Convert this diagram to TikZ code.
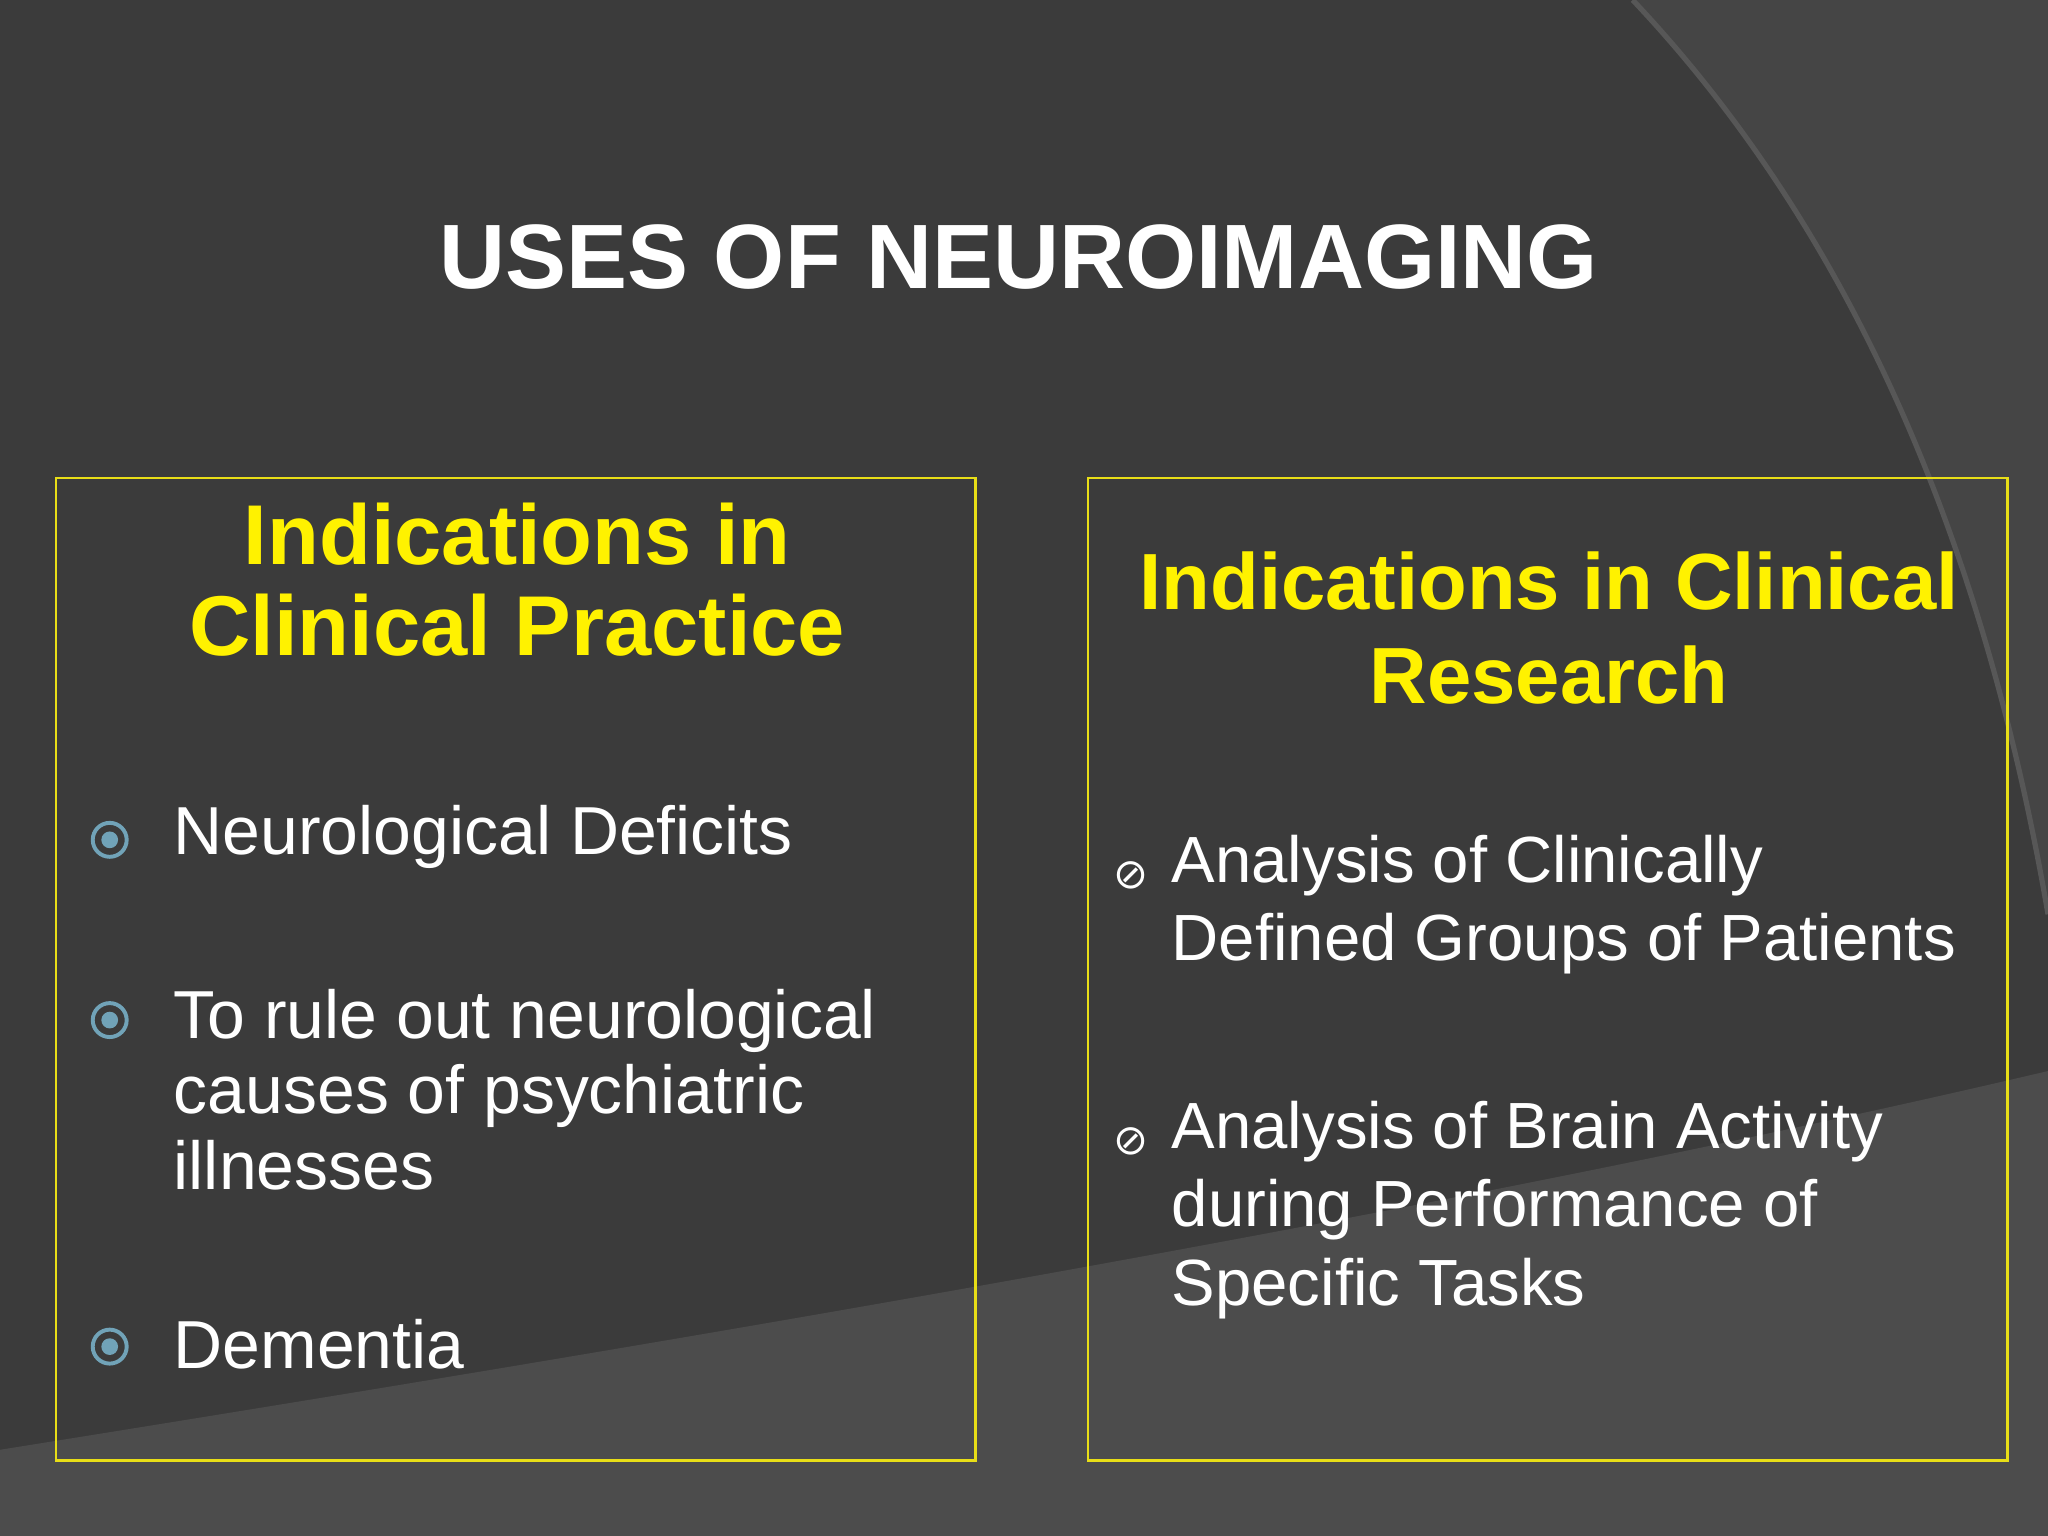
\documentclass[tikz,border=0pt]{standalone}
\usepackage{fontspec}
\setmainfont{Liberation Sans}
\newfontfamily\dejavu{DejaVu Sans}
\begin{document}
\begin{tikzpicture}[x=0.5pt,y=-0.5pt,
  box/.style={draw=yellow!90!black,line width=1pt},
  head/.style={text=yellow,font=\fontsize{31}{35}\selectfont\bfseries,align=center},
  item/.style={text=white,font=\fontsize{26}{29}\selectfont,align=left,anchor=west},
  itemr/.style={text=white,font=\fontsize{25}{30}\selectfont,align=left,anchor=north west},
  bul/.style={circle,draw=cyan!40!gray,line width=1.5pt,minimum size=13pt,inner sep=0pt,
     path picture={\fill[cyan!40!gray] (path picture bounding box.center) circle (3.2pt);}},
  bulr/.style={text=white,font=\dejavu\fontsize{16}{16}\selectfont,inner sep=0pt}]
\useasboundingbox (0,0) rectangle (1568,1176);
\fill[black!77] (0,0) rectangle (1568,1176);
\fill[black!73] (1250,0) .. controls (1420,180) and (1520,420) .. (1568,700) -- (1568,0) -- cycle;
\fill[black!70] (0,1110) .. controls (500,1030) and (1100,930) .. (1568,820) -- (1568,1176) -- (0,1176) -- cycle;
\draw[black!66,line width=2pt] (1250,0) .. controls (1420,180) and (1520,420) .. (1568,700);
\node[text=white,font=\fontsize{35}{40}\selectfont\bfseries] (title) at (780,197) {USES OF NEUROIMAGING};
\draw[box] (43,366) rectangle (747,1118);
\draw[box] (833,366) rectangle (1537,1118);
\node[head,font=\fontsize{32.5}{35}\selectfont\bfseries] (hl) at (396,444) {Indications in\\Clinical Practice};
\node[head,font=\fontsize{30.5}{36}\selectfont\bfseries] (hr) at (1186,481) {Indications in Clinical\\Research};
\node[bul] (b1) at (84,643) {};
\node[item] (t1) at (126,641) {Neurological Deficits};
\node[bul] (b2) at (84,781) {};
\node[item,anchor=north west] (t2) at (126,750) {To rule out neurological\\causes of psychiatric\\illnesses};
\node[bul] (b3) at (84,1031) {};
\node[item] (t3) at (126,1029) {Dementia};
\node[bulr] (r1) at (866,670) {⊘};
\node[itemr] (s1) at (890,632) {Analysis of Clinically\\Defined Groups of Patients};
\node[bulr] (r2) at (866,874) {⊘};
\node[itemr] (s2) at (890,836) {Analysis of Brain Activity\\during Performance of\\Specific Tasks};
\end{tikzpicture}
\end{document}
